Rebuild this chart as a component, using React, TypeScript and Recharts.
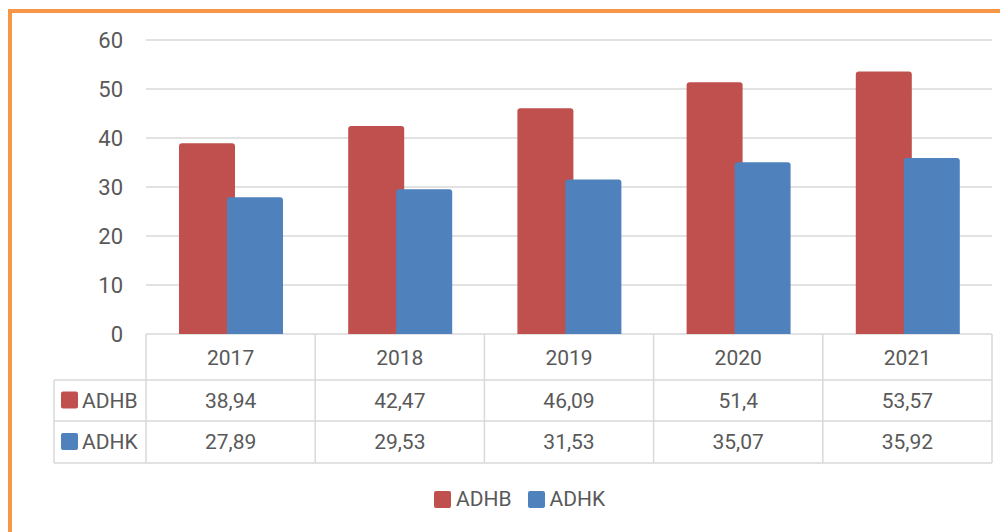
import React from "react";
import { BarChart, Bar, XAxis, YAxis, CartesianGrid, Legend } from "recharts";

const years = ["2017", "2018", "2019", "2020", "2021"];
const adhb = [38.94, 42.47, 46.09, 51.4, 53.57];
const adhk = [27.89, 29.53, 31.53, 35.07, 35.92];
const yTicks = [0, 10, 20, 30, 40, 50, 60];

const RED = "#C0504D";
const BLUE = "#4F81BD";
const TEXT = "#595959";
const LINE = "#D9D9D9";
const FONT = "Roboto, 'Noto Sans', sans-serif";

const data = years.map((year, i) => ({ year, ADHB: adhb[i], ADHK: adhk[i] }));

const series = [
  { key: "ADHB", color: RED, values: adhb },
  { key: "ADHK", color: BLUE, values: adhk },
];

const PLOT_LEFT = 146;
const PLOT_RIGHT = 992;
const BAND = (PLOT_RIGHT - PLOT_LEFT) / years.length;
const LEGEND_LEFT = 54;
const ROW_H = [46, 41, 42];

const fmt = (v: number) => String(v).replace(".", ",");

// draws one column of the data table under each category
const TableTick = (props: any) => {
  const { x, y, payload } = props;
  const i = payload.index;
  const left = x - BAND / 2;
  const right = x + BAND / 2;
  const y1 = y + ROW_H[0];
  const y2 = y1 + ROW_H[1];
  const y3 = y2 + ROW_H[2];
  const first = i === 0;
  const last = i === years.length - 1;
  const hStart = first ? LEGEND_LEFT : left;
  return (
    <g>
      <line x1={left} y1={y} x2={left} y2={y3} stroke={LINE} strokeWidth={1.5} />
      {last && <line x1={right} y1={y} x2={right} y2={y3} stroke={LINE} strokeWidth={1.5} />}
      <line x1={hStart} y1={y1} x2={right} y2={y1} stroke={LINE} strokeWidth={1.5} />
      <line x1={hStart} y1={y2} x2={right} y2={y2} stroke={LINE} strokeWidth={1.5} />
      <line x1={hStart} y1={y3} x2={right} y2={y3} stroke={LINE} strokeWidth={1.5} />
      {first && <line x1={LEGEND_LEFT} y1={y1} x2={LEGEND_LEFT} y2={y3} stroke={LINE} strokeWidth={1.5} />}
      <text x={x} y={y + ROW_H[0] / 2 + 1} textAnchor="middle" dominantBaseline="central"
        fontSize={21} fill={TEXT} fontFamily={FONT}>{payload.value}</text>
      {series.map((s, r) => {
        const top = r === 0 ? y1 : y2;
        const cy = top + ROW_H[r + 1] / 2;
        return (
          <g key={s.key}>
            <text x={x} y={cy} textAnchor="middle" dominantBaseline="central"
              fontSize={21} fill={TEXT} fontFamily={FONT}>{fmt(s.values[i])}</text>
            {first && (
              <g>
                <rect x={61} y={cy - 9} width={17} height={17} rx={2} fill={s.color} />
                <text x={82} y={cy} dominantBaseline="central" fontSize={21} fill={TEXT}
                  fontFamily={FONT}>{s.key}</text>
              </g>
            )}
          </g>
        );
      })}
    </g>
  );
};

const LegendContent = () => (
  <div style={{ display: "flex", alignItems: "center", height: 24, fontFamily: FONT, fontSize: 21, color: TEXT }}>
    {series.map((s, i) => (
      <div key={s.key} style={{ display: "flex", alignItems: "center", marginLeft: i ? 16 : 0 }}>
        <span style={{ width: 17, height: 17, borderRadius: 2, background: s.color, marginRight: 5 }} />
        <span style={{ lineHeight: "24px" }}>{s.key}</span>
      </div>
    ))}
  </div>
);

export default function App() {
  return (
    <div style={{ position: "relative", width: 1008, height: 532 }}>
      <div style={{
        position: "absolute", left: 0, top: 1, width: 1000, height: 523,
        borderLeft: "4px solid #F79646", borderTop: "4px solid #F79646", boxSizing: "border-box",
      }} />
      <div style={{ position: "absolute", left: -8, top: -8 }}>
        <BarChart width={1008} height={532} data={data} barSize={56} barGap={-8}
          margin={{ top: 40, right: 1008 - PLOT_RIGHT, left: 0, bottom: 532 - 334 - 130 }}>
          <CartesianGrid vertical={false} stroke={LINE} strokeWidth={1.5} />
          <XAxis dataKey="year" height={130} axisLine={false} tickLine={false} tickSize={0} tickMargin={0}
            interval={0} tick={(p: any) => <TableTick {...p} />} />
          <YAxis width={PLOT_LEFT} domain={[0, 60]} ticks={yTicks} axisLine={false} tickLine={false}
            tickSize={0} tickMargin={23} tick={{ fontSize: 22, fill: TEXT, fontFamily: FONT }} />
          <Legend verticalAlign="middle" align="center" content={LegendContent}
            wrapperStyle={{ left: 434, top: 487, width: "auto" }} />
          <Bar dataKey="ADHB" fill={RED} radius={[3, 3, 0, 0]} isAnimationActive={false} />
          <Bar dataKey="ADHK" fill={BLUE} radius={[3, 3, 0, 0]} isAnimationActive={false} />
        </BarChart>
      </div>
    </div>
  );
}
